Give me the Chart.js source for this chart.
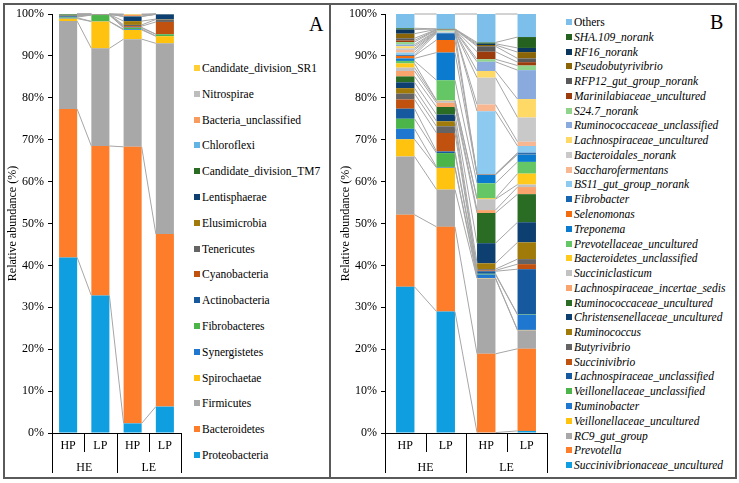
<!DOCTYPE html>
<html>
<head>
<meta charset="utf-8">
<script src="https://cdn.jsdelivr.net/npm/chart.js@4.4.1/dist/chart.umd.min.js"></script>
<style>
  body { margin: 0; background: #fff; font-family: 'Liberation Serif', 'Times New Roman', serif; }
  #page { position: relative; width: 739px; height: 483px; overflow: hidden; }
  .frame { position: absolute; left: 3px; top: 3px; width: 734px; height: 476px; border: 2px solid #5a5a5a; box-sizing: border-box; }
  .divider { position: absolute; left: 329px; top: 3px; width: 2px; height: 476px; background: #5a5a5a; }
  canvas { position: absolute; top: 0; }
  #chartA { left: 0; }
  #chartB { left: 333px; }
  .legend { position: absolute; top: 0; font-size: 11.5px; color: #000; }
  .legend .item { position: absolute; left: 0; height: 14px; line-height: 14px; white-space: nowrap; display: flex; align-items: center; }
  .legend .box { width: 6px; height: 6px; margin-right: 2px; flex: none; }
  .tag { position: absolute; font-size: 20px; line-height: 20px; }
</style>
</head>
<body>
<div id="page">
  <div class="frame"></div>
  <div class="divider"></div>
  <canvas id="chartA" width="190" height="483"></canvas>
  <canvas id="chartB" width="222" height="483"></canvas>
  <div class="legend" id="legendA" style="left:194px"></div>
  <div class="legend" id="legendB" style="left:566px"></div>
  <div class="tag" style="left:309px; top:14px">A</div>
  <div class="tag" style="left:710px; top:12px">B</div>
</div>
<script>
// x axis: sub groups and groups
const subGroups = ['HP', 'LP', 'HP', 'LP'];
const groups = ['HE', 'LE'];

// ---- panel A: phyla, listed from the bottom of the stack up ----
const phyla = [
  'Proteobacteria', 'Bacteroidetes', 'Firmicutes', 'Spirochaetae', 'Synergistetes', 'Fibrobacteres',
  'Actinobacteria', 'Cyanobacteria', 'Tenericutes', 'Elusimicrobia', 'Lentisphaerae',
  'Candidate_division_TM7', 'Chloroflexi', 'Bacteria_unclassified', 'Nitrospirae', 'Candidate_division_SR1'
];
const phylaHeHp = [41.9, 35.4, 21.0, 0.6, 0.2, 0.15, 0.2, 0.05, 0.05, 0.05, 0.05, 0.25, 0.05, 0.02, 0.02, 0.01];
const phylaHeLp = [32.8, 35.7, 23.3, 6.4, 0.05, 1.5, 0.05, 0.05, 0.03, 0.02, 0.02, 0.02, 0.02, 0.02, 0.01, 0.01];
const phylaLeHp = [2.3, 66.0, 25.7, 2.2, 0.2, 0.3, 0.1, 0.3, 0.3, 0.9, 1.1, 0.05, 0.05, 0.3, 0.05, 0.15];
const phylaLeLp = [6.3, 41.2, 45.5, 1.7, 0.05, 0.4, 0.05, 2.9, 0.6, 0.1, 1.1, 0.05, 0.02, 0.02, 0.01, 0];

// ---- panel B: genera, listed from the bottom of the stack up ----
const genera = [
  'Succinivibrionaceae_uncultured', 'Prevotella', 'RC9_gut_group', 'Veillonellaceae_uncultured', 'Ruminobacter',
  'Veillonellaceae_unclassified', 'Lachnospiraceae_unclassified', 'Succinivibrio', 'Butyrivibrio', 'Ruminococcus',
  'Christensenellaceae_uncultured', 'Ruminococcaceae_uncultured', 'Lachnospiraceae_incertae_sedis', 'Succiniclasticum',
  'Bacteroidetes_unclassified', 'Prevotellaceae_uncultured', 'Treponema', 'Selenomonas', 'Fibrobacter',
  'BS11_gut_group_norank', 'Saccharofermentans', 'Bacteroidales_norank', 'Lachnospiraceae_uncultured',
  'Ruminococcaceae_unclassified', 'S24.7_norank', 'Marinilabiaceae_uncultured', 'RFP12_gut_group_norank',
  'Pseudobutyrivibrio', 'RF16_norank', 'SHA.109_norank', 'Others'
];
const generaHeHp = [34.9, 17.2, 13.9, 4.1, 2.5, 2.4, 2.4, 2.2, 1.4, 1.3, 1.4, 1.4, 1.3, 0.8, 1.0, 0.6, 0.6, 0.6, 0.2, 0.6, 0.6, 0.4, 0.5, 0.4, 0.6, 0.4, 0.5, 1.1, 1.0, 0.3, 3.4];
const generaHeLp = [29.0, 20.2, 8.9, 5.2, 0.2, 3.3, 0.4, 4.4, 1.6, 1.2, 1.6, 1.8, 1.0, 0.5, 0.1, 4.8, 6.6, 3.0, 1.6, 0.2, 0.1, 0.1, 0.1, 0.1, 0.2, 0.05, 0.05, 0.05, 0.05, 0.05, 3.55];
const generaLeHp = [0.1, 18.8, 18.0, 0.1, 0.8, 0.2, 0.6, 0.2, 0.3, 1.4, 4.8, 7.2, 0.7, 2.6, 0.2, 3.6, 2.0, 0.1, 0.1, 15.0, 1.6, 6.4, 1.6, 2.2, 0.6, 1.8, 1.3, 0.3, 0.3, 0.3, 6.8];
const generaLeLp = [0.5, 19.6, 4.4, 0.1, 3.6, 0.1, 10.8, 1.2, 1.2, 4.0, 4.8, 6.7, 1.7, 0.6, 2.6, 2.8, 1.8, 0.1, 0.3, 1.6, 1.0, 5.8, 4.4, 6.9, 1.1, 0.8, 0.9, 1.5, 1.0, 2.6, 5.5];

const baseColors = ['#0f9ee0', '#fe7d2a', '#a8a8a8', '#ffc20e', '#1f77d0', '#4bb549',
  '#17599f', '#c0510f', '#646464', '#a07b09', '#0d3f70', '#2a6c24'];
const phylaColors = baseColors.concat(['#62b4e5', '#f89b5f', '#bdbdbd', '#ffcf33']);
const generaColors = baseColors.concat([
  '#f8a46c', '#c2c2c2', '#ffca1c', '#65c665', '#0b7bd0', '#f26b0f', '#1565b0', '#8ccaf0', '#f9b791',
  '#c9c9c9', '#ffd966', '#8aaade', '#90d48c', '#9c3b0c', '#595959', '#8a6508', '#0b365e', '#26621f', '#7bbfea'
]);

const serif = 'Liberation Serif';

// grey lines joining the top of each segment to the same segment in the next bar
const seriesLines = {
  id: 'seriesLines',
  afterDatasetsDraw(chart) {
    const ctx = chart.ctx;
    ctx.save();
    ctx.strokeStyle = '#a6a6a6';
    ctx.lineWidth = 1;
    chart.data.datasets.forEach((ds, i) => {
      const bars = chart.getDatasetMeta(i).data;
      for (let j = 0; j < bars.length - 1; j++) {
        const a = bars[j];
        const b = bars[j + 1];
        ctx.beginPath();
        ctx.moveTo(a.x + a.width / 2, a.y);
        ctx.lineTo(b.x - b.width / 2, b.y);
        ctx.stroke();
      }
    });
    ctx.restore();
  }
};

// two-level category axis (HP/LP under HE/LE)
const groupAxis = {
  id: 'groupAxis',
  afterDraw(chart) {
    const ctx = chart.ctx;
    const x = chart.scales.x;
    const y0 = chart.chartArea.bottom;
    const half = (x.getPixelForValue(1) - x.getPixelForValue(0)) / 2;
    ctx.save();
    ctx.strokeStyle = '#000';
    ctx.lineWidth = 1;
    for (let i = 0; i <= subGroups.length; i++) {
      const px = Math.round(x.getPixelForValue(0) - half + i * 2 * half) + 0.5;
      ctx.beginPath();
      ctx.moveTo(px, y0);
      ctx.lineTo(px, y0 + (i % 2 === 0 ? 40 : 19));
      ctx.stroke();
    }
    ctx.fillStyle = '#000';
    ctx.font = '12px ' + serif;
    ctx.textAlign = 'center';
    ctx.textBaseline = 'middle';
    groups.forEach((g, k) => {
      const cx = (x.getPixelForValue(2 * k) + x.getPixelForValue(2 * k + 1)) / 2;
      ctx.fillText(g, cx, y0 + 35);
    });
    ctx.restore();
  }
};

function buildChart(canvas, names, columns, colors, barPct, rightPad) {
  const datasets = names.map((name, i) => ({
    label: name,
    data: columns.map(col => col[i]),
    backgroundColor: colors[i],
    borderWidth: 0,
    barPercentage: barPct,
    categoryPercentage: 1
  }));
  const font = { family: serif, size: 12 };
  return new Chart(canvas, {
    type: 'bar',
    data: { labels: subGroups, datasets },
    plugins: [seriesLines, groupAxis],
    options: {
      responsive: false,
      animation: false,
      layout: { padding: { left: 0, right: rightPad, top: 14, bottom: 0 } },
      plugins: { legend: { display: false }, tooltip: { enabled: false } },
      scales: {
        x: {
          stacked: true,
          grid: { display: false, drawTicks: false },
          border: { color: '#000' },
          ticks: { color: '#000', font, padding: 6, maxRotation: 0 },
          afterFit: s => { s.height = 50; }
        },
        y: {
          stacked: true,
          min: 0,
          max: 100,
          ticks: { stepSize: 10, color: '#000', font, padding: 4, callback: v => v + '%' },
          grid: { drawOnChartArea: false, tickLength: 4, color: '#000' },
          border: { color: '#000' },
          title: { display: true, text: 'Relative abundance (%)', color: '#000', font, padding: { top: 6, bottom: 0 } },
          afterFit: s => { s.width = 52; }
        }
      }
    }
  });
}

function buildLegend(el, names, colors, firstY, step, italic) {
  for (let k = names.length - 1, row = 0; k >= 0; k--, row++) {
    const item = document.createElement('div');
    item.className = 'item';
    item.style.top = (firstY + row * step - 7) + 'px';
    const box = document.createElement('span');
    box.className = 'box';
    box.style.background = colors[k];
    const text = document.createElement('span');
    text.textContent = names[k];
    if (italic && names[k] !== 'Others') text.style.fontStyle = 'italic';
    item.appendChild(box);
    item.appendChild(text);
    el.appendChild(item);
  }
}

buildChart(document.getElementById('chartA'), phyla,
  [phylaHeHp, phylaHeLp, phylaLeHp, phylaLeLp], phylaColors, 0.56, 9);
buildChart(document.getElementById('chartB'), genera,
  [generaHeHp, generaHeLp, generaLeHp, generaLeLp], generaColors, 0.455, 8);

buildLegend(document.getElementById('legendA'), phyla, phylaColors, 68, 25.8, false);
buildLegend(document.getElementById('legendB'), genera, generaColors, 22, 14.77, true);
</script>
</body>
</html>
